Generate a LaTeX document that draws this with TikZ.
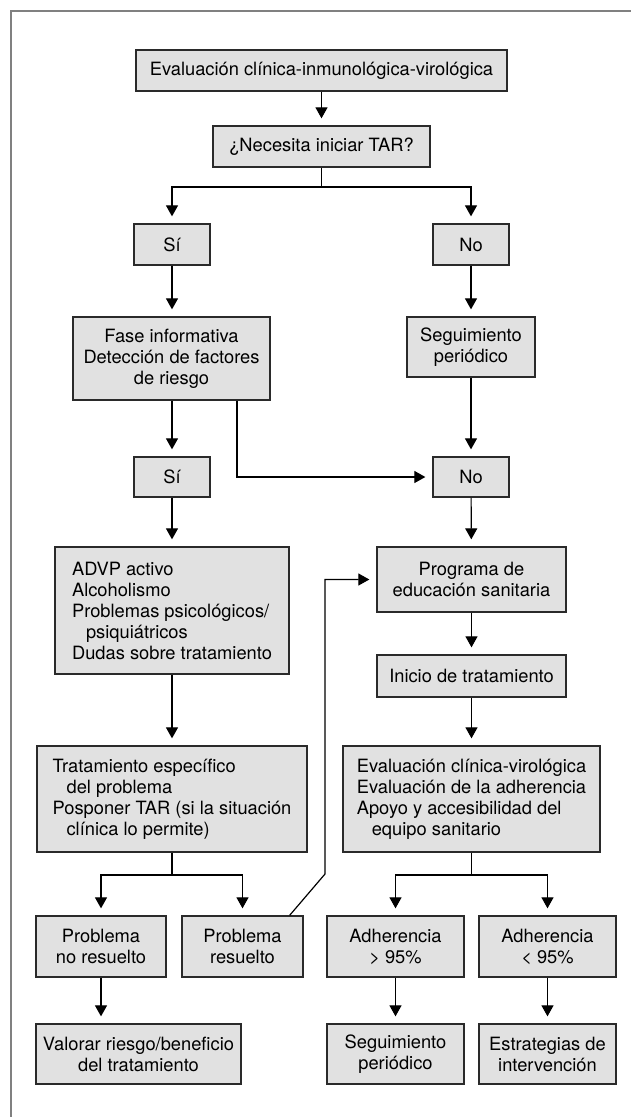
\documentclass[tikz,border=0pt]{standalone}
\usepackage{fontspec}
\setmainfont{TeX Gyre Heros}
\usetikzlibrary{arrows.meta}
\definecolor{boxfill}{HTML}{E1E1E1}
\definecolor{boxline}{HTML}{2A2A2A}
\definecolor{framegray}{HTML}{808080}
\begin{document}
\begin{tikzpicture}[x=1pt,y=-1pt,
  box/.style={draw=boxline, line width=1.3pt, fill=boxfill, inner sep=0pt, align=center,
    font=\fontsize{18.3}{21}\selectfont},
  lbox/.style={box, align=left},
  conn/.style={line width=1.2pt, draw=black},
  arr/.style={conn, -{Triangle[length=11pt,width=12pt]}, shorten >=7pt},
]
\useasboundingbox (0,0) rectangle (631,1117);
\draw[framegray, line width=1.5pt] (11,1117) -- (11,11) -- (631,11);

\node[box, minimum width=371pt, minimum height=41pt] (b1) at (321.5,70.5) {Evaluación clínica-inmunológica-virológica};
\node[box, minimum width=217pt, minimum height=41pt] (b2) at (321.5,146.5) {¿Necesita iniciar TAR?};
\node[box, minimum width=76pt, minimum height=41pt] (si1) at (172,244.5) {Sí};
\node[box, minimum width=76pt, minimum height=41pt] (no1) at (471,244.5) {No};
\node[box, minimum width=197pt, minimum height=83pt] (fase) at (171.5,358.5) {Fase informativa\\Detección de factores\\de riesgo};
\node[box, minimum width=128pt, minimum height=60pt] (seg1) at (471,347) {Seguimiento\\periódico};
\node[box, minimum width=76pt, minimum height=40pt] (si2) at (172,477) {Sí};
\node[box, minimum width=76pt, minimum height=40pt] (no2) at (471,477) {No};
\node[lbox, minimum width=234pt, minimum height=127pt] (advp) at (172,610.5) {ADVP activo\\Alcoholismo\\Problemas psicológicos/\\\hspace*{14pt}psiquiátricos\\Dudas sobre tratamiento};
\node[box, minimum width=189pt, minimum height=65pt] (prog) at (471.5,579.5) {Programa de\\educación sanitaria};
\node[box, minimum width=189pt, minimum height=42pt] (inicio) at (471.5,676) {Inicio de tratamiento};
\node[lbox, minimum width=270pt, minimum height=106pt] (trat) at (172,799) {Tratamiento específico\\\hspace*{14pt}del problema\\Posponer TAR (si la situación\\\hspace*{14pt}clínica lo permite)};
\node[lbox, minimum width=257pt, minimum height=106pt] (evalcv) at (471.5,799) {Evaluación clínica-virológica\\Evaluación de la adherencia\\Apoyo y accesibilidad del\\\hspace*{15pt}equipo sanitario};
\node[box, minimum width=130pt, minimum height=61pt] (pnr) at (101,946.5) {Problema\\no resuelto};
\node[box, minimum width=121pt, minimum height=61pt] (pr) at (242.5,946.5) {Problema\\resuelto};
\node[box, minimum width=137pt, minimum height=61pt] (adh1) at (395.5,946.5) {Adherencia\\> 95\%};
\node[box, minimum width=137pt, minimum height=61pt] (adh2) at (547.5,946.5) {Adherencia\\< 95\%};
\node[box, minimum width=205pt, minimum height=60pt] (val) at (138.5,1054) {Valorar riesgo/beneficio\\del tratamiento};
\node[box, minimum width=137pt, minimum height=60pt] (seg2) at (395.5,1054) {Seguimiento\\periódico};
\node[box, minimum width=137pt, minimum height=60pt] (estr) at (547.5,1054) {Estrategias de\\intervención};

\coordinate (j1) at (321.5,187);
\coordinate (j2) at (172,875);
\coordinate (j3) at (471.5,875);
\coordinate (k) at (325,874);

\draw[arr] (b1) -- (b2);
\draw[conn] (b2.south) -- (j1);
\draw[arr] (j1) -| (si1.north);
\draw[arr] (j1) -| (no1.north);
\draw[arr] (si1.south) -- (si1.south |- fase.north);
\draw[arr] (no1) -- (seg1);
\draw[arr] (si1.south |- fase.south) -- (si2.north);
\draw[arr] ([xshift=65.5pt]fase.south) |- (no2.west);
\draw[arr] (seg1) -- (no2);
\draw[arr] (si2) -- (advp);
\draw[arr] (no2) -- (prog);
\draw[arr] (advp) -- (trat);
\draw[arr] (prog) -- (inicio);
\draw[arr] (inicio) -- (evalcv);
\draw[conn] (trat.south) -- (j2);
\draw[arr] (j2) -| (pnr.north);
\draw[arr] (j2) -| (pr.north);
\draw[conn] (evalcv.south) -- (j3);
\draw[arr] (j3) -| (adh1.north);
\draw[arr] (j3) -| (adh2.north);
\draw[arr] (pnr.south) -- (pnr.south |- val.north);
\draw[arr] (adh1) -- (seg2);
\draw[arr] (adh2) -- (estr);
\draw[arr] ([xshift=-14pt]pr.north east) -- (k) |- (prog.west);
\end{tikzpicture}
\end{document}
